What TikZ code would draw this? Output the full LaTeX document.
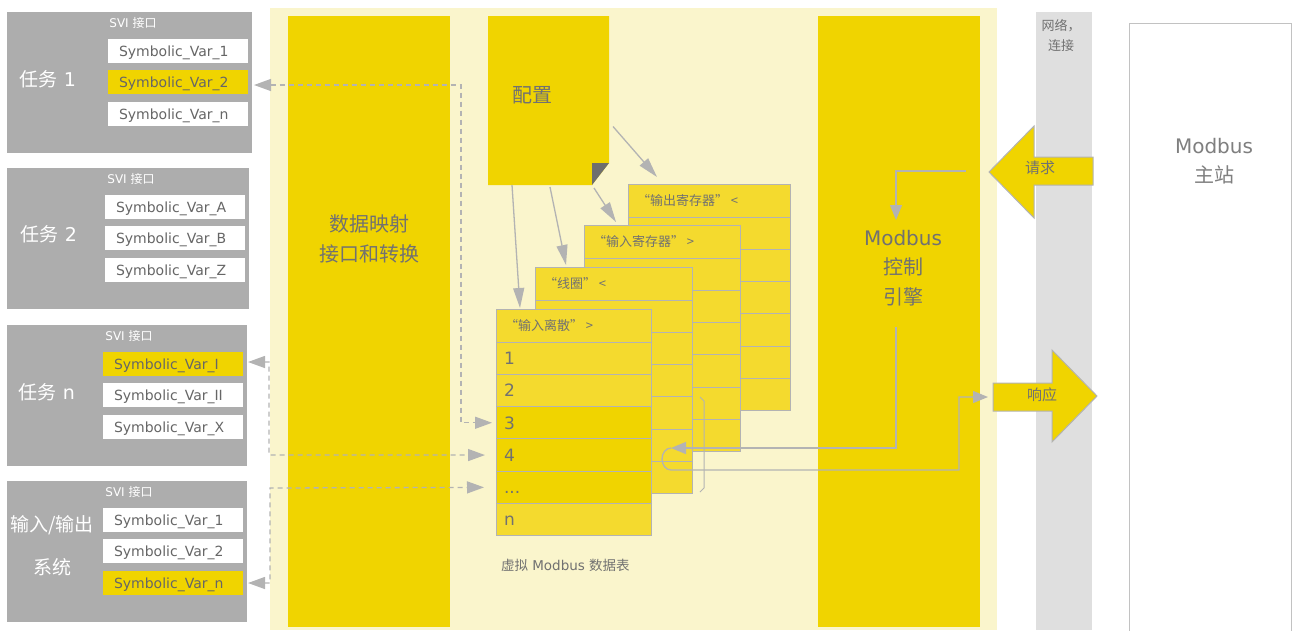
\documentclass[tikz,border=0pt]{standalone}
\usepackage{fontspec}
\setmainfont{DejaVu Sans}
\newfontfamily\cjk{Noto Sans CJK SC}
\usetikzlibrary{arrows.meta}
\definecolor{beige}{HTML}{FAF5CC}
\definecolor{myyellow}{HTML}{F0D400}
\definecolor{tabyellow}{HTML}{F4DA2E}
\definecolor{boxgray}{HTML}{ADADAD}
\definecolor{netgray}{HTML}{DFDFDF}
\definecolor{linegray}{HTML}{B3B3B3}
\definecolor{txtgray}{HTML}{717171}
\definecolor{vartxt}{HTML}{666666}
\definecolor{corner}{HTML}{6E6E6E}
\newcommand{\fsz}[2]{\fontsize{#1}{#2}\selectfont}
\newcommand{\tdots}{...}
\tikzset{
  rect/.style={anchor=north west, inner sep=0pt, outer sep=0pt},
  sz/.style 2 args={minimum width=#1pt, minimum height=#2pt},
  var/.style={rect, sz={140}{24}, text width=140pt, inner xsep=0pt, align=left, font=\fsz{14}{14}, text=vartxt, text height=12pt, text depth=1pt},
  tlabel/.style={font=\fsz{19}{19}, text=white},
  svi/.style={font=\fsz{12}{12}, text=white},
  trow/.style={rect, draw=linegray, line width=1pt, fill=tabyellow},
  scon/.style={draw=linegray, line width=1.3pt, -{Triangle[length=15pt,width=12pt]}},
  dcon/.style={draw=linegray, line width=1.3pt, dash pattern=on 5pt off 4pt, {Triangle[length=17pt,width=12pt]}-{Triangle[length=17pt,width=12pt]}},
  ccon/.style={draw=linegray, line width=1.3pt, -{Triangle[length=20pt,width=11pt]}},
  barrow/.style={fill=myyellow, draw=linegray, line width=1pt},
}
\newcommand\mktable[5]{%
  \node[trow, sz={#4}{33}] (#1h) at (#2,#3) {};
  \node[font=\cjk\fsz{13}{13}, anchor=west, text=txtgray] (#1ht) at ([xshift=9pt]#1h.west) {#5};
  \foreach \k in {1,2,3,4,5,6} {\node[trow, sz={#4}{32.3}] (#1\k) at (#2,{#3+33+(\k-1)*32.3}) {};}
}
\begin{document}
\begin{tikzpicture}[x=1pt,y=-1pt, every node/.style={inner sep=0pt, outer sep=0pt, text=txtgray}]
\useasboundingbox (0,0) rectangle (1292,630);
% backgrounds
\node[rect, fill=beige, sz={727}{622}] (bg) at (270,8) {};
\node[rect, fill=myyellow, sz={162}{611}] (map) at (288,16) {};
\node[font=\cjk\fsz{20}{30}, align=center] (maptxt) at (369,239) {数据映射\\接口和转换};
\node[rect, fill=myyellow, sz={162}{611}] (eng) at (818,16) {};
\node[font=\fsz{20}{29.5}, align=center] (engtxt) at (903,268) {Modbus\\{\cjk 控制}\\{\cjk 引擎}};
\node[rect, fill=netgray, sz={56}{618}] (net) at (1036,12) {};
\node[font=\cjk\fsz{13}{20}, align=center] (nettxt) at (1061,35) {网络，\\连接};
\node[rect, fill=white, draw=linegray!80, line width=1pt, sz={162}{630}] (master) at (1129,23) {};
\node[font=\fsz{20}{29}, align=center, text=txtgray!90] (mtxt) at (1214,161) {Modbus\\{\cjk 主站}};
% config block
\node[rect, sz={121}{169}] (cfg) at (488,16) {};
\fill[myyellow] (cfg.north west) -- (cfg.north east) -- ([yshift=22pt]cfg.south east) -- ([xshift=-17pt]cfg.south east) -- (cfg.south west) -- cycle;
\fill[corner] ([xshift=-17pt,yshift=22pt]cfg.south east) -- ([yshift=22pt]cfg.south east) -- ([xshift=-17pt]cfg.south east) -- cycle;
\node[font=\cjk\fsz{20}{20}] (cfgtxt) at (532,95) {配置};
% tables
\mktable{o}{628}{184}{162}{“输出寄存器” <}
\mktable{i}{584}{225}{156}{“输入寄存器” >}
\mktable{c}{535}{267}{157}{“线圈” <}
\mktable{f}{496}{309}{155}{“输入离散” >}
\foreach \k in {3,4,5} {\path[fill=myyellow, draw=linegray, line width=1pt] (f\k.north west) rectangle (f\k.south east);}
\foreach \k/\t in {1/1,2/2,3/3,4/4,5/\tdots,6/n} {\node[font=\fsz{17}{17}, anchor=west, text height=12.5pt, text depth=0pt] (f\k t) at ([xshift=8pt]f\k.west) {\t};}
\node[font=\fsz{13.5}{13.5}, anchor=west] (cap) at (501,565) {{\cjk 虚拟} Modbus {\cjk 数据表}};
% task boxes
\node[rect, fill=boxgray, sz={245}{141}] (t1) at (7,12) {};
\node[svi] (t1s) at (133,23) {SVI {\cjk 接口}};
\node[tlabel] (t1l) at (48,79) {{\cjk 任务} 1};
\node[var, fill=white] (t1a) at (108,39) {\hspace*{11pt}Symbolic\_Var\_1};
\node[var, fill=myyellow] (t1b) at (108,70) {\hspace*{11pt}Symbolic\_Var\_2};
\node[var, fill=white] (t1c) at (108,102) {\hspace*{11pt}Symbolic\_Var\_n};

\node[rect, fill=boxgray, sz={242}{141}] (t2) at (7,168) {};
\node[svi] (t2s) at (131,179) {SVI {\cjk 接口}};
\node[tlabel] (t2l) at (49,234) {{\cjk 任务} 2};
\node[var, fill=white] (t2a) at (105,195) {\hspace*{11pt}Symbolic\_Var\_A};
\node[var, fill=white] (t2b) at (105,226) {\hspace*{11pt}Symbolic\_Var\_B};
\node[var, fill=white] (t2c) at (105,258) {\hspace*{11pt}Symbolic\_Var\_Z};

\node[rect, fill=boxgray, sz={240}{141}] (tn) at (7,325) {};
\node[svi] (tns) at (129,336) {SVI {\cjk 接口}};
\node[tlabel] (tnl) at (47,392) {{\cjk 任务} n};
\node[var, fill=myyellow] (tna) at (103,352) {\hspace*{11pt}Symbolic\_Var\_I};
\node[var, fill=white] (tnb) at (103,383) {\hspace*{11pt}Symbolic\_Var\_II};
\node[var, fill=white] (tnc) at (103,415) {\hspace*{11pt}Symbolic\_Var\_X};

\node[rect, fill=boxgray, sz={240}{141}] (io) at (7,481) {};
\node[svi] (ios) at (129,492) {SVI {\cjk 接口}};
\node[tlabel, font=\cjk\fsz{19}{19}] (iol1) at (52,525) {输入/输出};
\node[tlabel, font=\cjk\fsz{19}{19}] (iol2) at (52,567) {系统};
\node[var, fill=white] (ioa) at (103,508) {\hspace*{11pt}Symbolic\_Var\_1};
\node[var, fill=white] (iob) at (103,539) {\hspace*{11pt}Symbolic\_Var\_2};
\node[var, fill=myyellow] (ioc) at (103,571) {\hspace*{11pt}Symbolic\_Var\_n};
% block arrows
\coordinate (rqtip) at (989,172);
\draw[barrow] (rqtip) -- (1034,126) -- (1034,157) -- (1093,157) -- (1093,185) -- (1034,185) -- (1034,218) -- cycle;
\node[font=\cjk\fsz{15}{15}] (rqtxt) at (1040,168) {请求};
\coordinate (rsl) at (993,397);
\draw[barrow] (993,383) -- (1052,383) -- (1052,350) -- (1097,396) -- (1052,442) -- (1052,411) -- (993,411) -- cycle;
\node[font=\cjk\fsz{15}{15}] (rstxt) at (1042,395) {响应};
% config arrows
\draw[ccon] ([xshift=24pt]cfg.south west) -- ([xshift=24pt,yshift=1pt]fh.north west);
\draw[ccon] ([xshift=62pt,yshift=-2pt]cfg.south west) -- ([xshift=31pt,yshift=2pt]ch.north west);
\draw[ccon] ([xshift=-15pt,yshift=-3pt]cfg.south east) -- ([xshift=32pt,yshift=3pt]ih.north west);
\draw[ccon] ([xshift=4pt,yshift=-26pt]cfg.east) -- ([xshift=29pt,yshift=7pt]oh.north west);
% dashed connectors
\coordinate (d1) at (461,85);
\coordinate (d2) at (269,455);
\coordinate (d3) at (270,488);
\draw[dcon] ([xshift=6pt,yshift=-3pt]t1b.east) -- (d1) |- ([xshift=-4pt]f3.west);
\draw[dcon] ([xshift=5pt,yshift=2pt]tna.east) -| (d2) -- ([xshift=-11pt]f4.west);
\draw[dcon] ([xshift=5pt]ioc.east) -| (d3) -- ([xshift=-12pt]f5.west);
% engine flows
\coordinate (rqin) at (966,171);
\coordinate (e1) at (896,220);
\coordinate (e2) at (896,327);
\coordinate (lp) at (671,448);
\coordinate (lb) at (959,470);
\draw[scon] (rqin) -| (e1);
\draw[scon] (e2) |- (lp);
\draw[scon] (lp) arc[start angle=90,end angle=270,x radius=9pt,y radius=11pt] -- (lb) |- ([xshift=-5pt]rsl);
\draw[draw=linegray, line width=1pt] (700,397) -- (704,401) -- (704,488) -- (700,492);
\end{tikzpicture}
\end{document}
